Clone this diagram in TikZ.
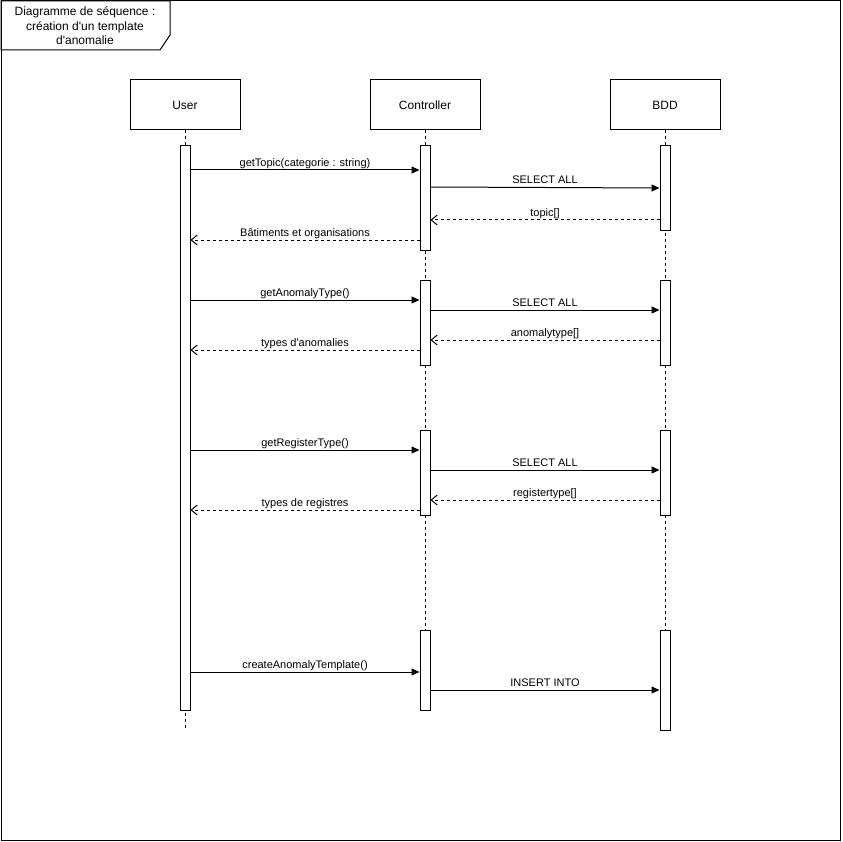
\documentclass[tikz,border=0pt]{standalone}
\usepackage{fontspec}
\setmainfont{Liberation Sans}
\usetikzlibrary{positioning,arrows.meta}

\begin{document}
\begin{tikzpicture}[x=1pt,y=-1pt,line width=1pt,font=\fontsize{11}{13}\selectfont,
    head/.style={draw,minimum width=110pt,minimum height=50pt,inner sep=0pt,font=\fontsize{12}{14}\selectfont},
    bar/.style={draw,fill=white,minimum width=10pt,inner sep=0pt,anchor=north},
    life/.style={dash pattern=on 3pt off 3pt},
    call/.style={-{Triangle[length=8pt,width=7pt]}},
    reply/.style={dash pattern=on 3pt off 3pt,-{Straight Barb[length=6pt,width=10pt]}},
    lbl/.style={midway,above,inner sep=1pt,text height=8pt,text depth=2pt}]
    \useasboundingbox (0,0) rectangle (842,842);
    % frame and title
    \draw (1,1) rectangle (840,840);
    \draw (1,1) -- (170,1) -- (170,35) -- (160,50) -- (1,50) -- cycle;
    \node[align=center,font=\fontsize{12}{14.5}\selectfont] (title) at (85,26) {Diagramme de séquence :\\création d\textquotesingle un template\\d\textquotesingle anomalie};
    % lifelines
    \node[head] (user) at (185,105) {User};
    \node[head,right=129pt of user] (ctrl) {Controller};
    \node[head,right=129pt of ctrl] (bdd) {BDD};
    \draw[life] (user.south) -- (user.south |- 0,730);
    \draw[life] (ctrl.south) -- (ctrl.south |- 0,710);
    \draw[life] (bdd.south) -- (bdd.south |- 0,730);
    % activations
    \node[bar,minimum height=565pt] (u1) at (185,145) {};
    \node[bar,minimum height=105pt] (c1) at (425,145) {};
    \node[bar,minimum height=85pt] (c2) at (425,280) {};
    \node[bar,minimum height=85pt] (c3) at (425,430) {};
    \node[bar,minimum height=80pt] (c4) at (425,630) {};
    \node[bar,minimum height=85pt] (b1) at (665,145) {};
    \node[bar,minimum height=85pt] (b2) at (665,280) {};
    \node[bar,minimum height=85pt] (b3) at (665,430) {};
    \node[bar,minimum height=100pt] (b4) at (665,630) {};
    % topics
    \draw[call] (u1.east |- 0,170) -- (c1.west |- 0,170) node[lbl] {getTopic(categorie : string)};
    \draw[call] (c1.east |- 0,187) -- (b1.west |- 0,188) node[lbl] {SELECT ALL};
    \draw[reply] (b1.west |- 0,220) -- (c1.east |- 0,220) node[lbl] {topic[]};
    \draw[reply] (c1.west |- 0,240) -- (u1.east |- 0,240) node[lbl] {Bâtiments et organisations};
    % anomaly types
    \draw[call] (u1.east |- 0,300) -- (c2.west |- 0,300) node[lbl] {getAnomalyType()};
    \draw[call] (c2.east |- 0,310) -- (b2.west |- 0,310) node[lbl] {SELECT ALL};
    \draw[reply] (b2.west |- 0,340) -- (c2.east |- 0,340) node[lbl] {anomalytype[]};
    \draw[reply] (c2.west |- 0,350) -- (u1.east |- 0,350) node[lbl] {types d\textquotesingle anomalies};
    % register types
    \draw[call] (u1.east |- 0,450) -- (c3.west |- 0,450) node[lbl] {getRegisterType()};
    \draw[call] (c3.east |- 0,470) -- (b3.west |- 0,470) node[lbl] {SELECT ALL};
    \draw[reply] (b3.west |- 0,500) -- (c3.east |- 0,500) node[lbl] {registertype[]};
    \draw[reply] (c3.west |- 0,510) -- (u1.east |- 0,510) node[lbl] {types de registres};
    % template
    \draw[call] (u1.east |- 0,672) -- (c4.west |- 0,672) node[lbl] {createAnomalyTemplate()};
    \draw[call] (c4.east |- 0,690) -- (b4.west |- 0,690) node[lbl] {INSERT INTO};
\end{tikzpicture}
\end{document}
